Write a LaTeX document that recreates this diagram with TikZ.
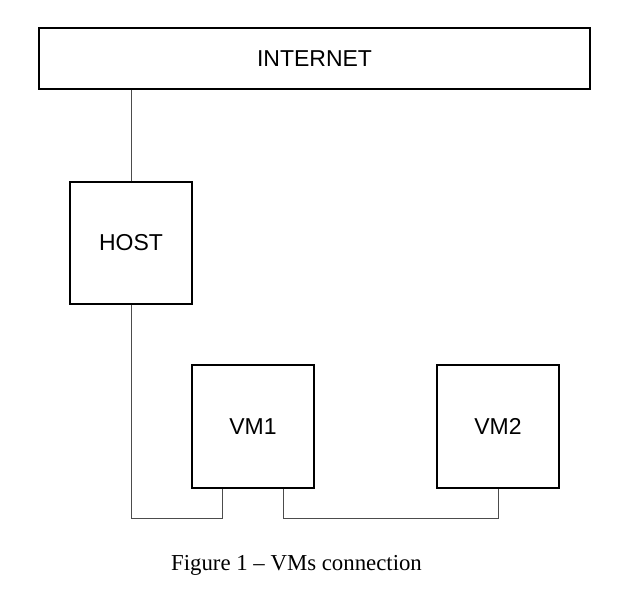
\documentclass[tikz,border=0pt]{standalone}
\usepackage{fontspec}
\setmainfont{Liberation Serif}
\setsansfont{Liberation Sans}
\usetikzlibrary{positioning, calc}

\begin{document}
\begin{tikzpicture}[
        x=1pt, y=-1pt,
        machine/.style={draw, line width=1.1pt, fill=white, minimum width=122pt, minimum height=122pt, inner sep=0pt, font=\sffamily\fontsize{23}{27}\selectfont},
        cloud_box/.style={machine, minimum width=551pt, minimum height=61pt},
        link/.style={line width=1pt, draw=black!70},
        caption_text/.style={font=\rmfamily\fontsize{22.8}{27}\selectfont, anchor=base}
    ]
    \useasboundingbox (0,0) rectangle (618,596);

    % --- Boxes ---
    \node[cloud_box] (internet) at (314.5,58.5) {INTERNET};
    \node[machine] (host) at (131,243) {HOST};
    \node[machine, minimum height=123pt] (vm1) at (253,426.5) {VM1};
    \node[machine, minimum height=123pt] (vm2) at (498,426.5) {VM2};

    % ports on the VMs and the bus level
    \coordinate (vm1_in) at ($(vm1.south west)!0.25!(vm1.south east)$);
    \coordinate (vm1_out) at ($(vm1.south west)!0.75!(vm1.south east)$);
    \coordinate (bus) at (0,518);

    % --- Connections ---
    \draw[link] (host.north) -- (host.north |- internet.south);
    \draw[link] (host.south) |- (vm1_in |- bus) -- (vm1_in);
    \draw[link] (vm1_out) |- (vm2.south |- bus) -- (vm2.south);

    % --- Caption ---
    \node[caption_text] (caption) at (296.5,570) {Figure 1 -- VMs connection};
\end{tikzpicture}
\end{document}
